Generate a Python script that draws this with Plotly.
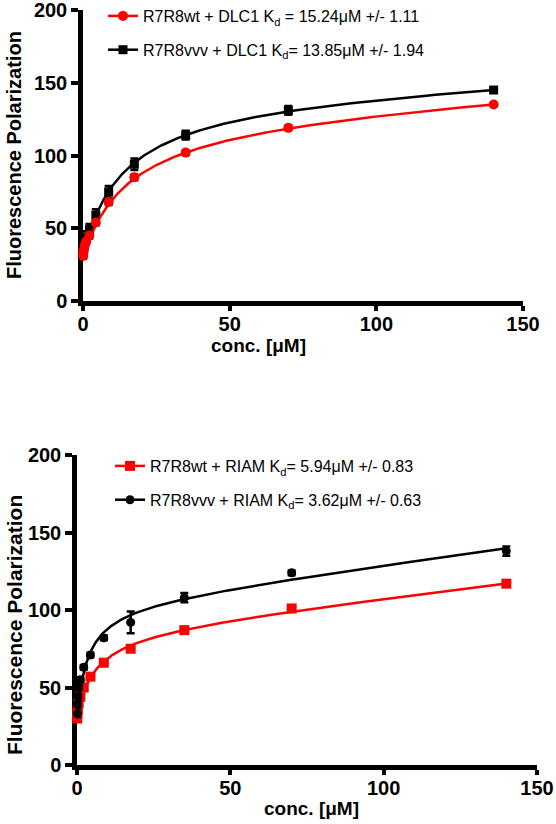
import numpy as np
import plotly.graph_objects as go

# ---------------- data ----------------
conc = [140, 70, 35, 17.5, 8.75, 4.375, 2.1875, 1.09375, 0.546875, 0.2734, 0.1367, 0.0684]

dlc1_wt = [135, 119, 102, 85, 68, 54, 45, 41, 38, 35, 33, 31]
dlc1_wt_err = [1, 1.5, 1.5, 2, 2, 2, 2, 2, 2, 2, 2, 2]
dlc1_vvv = [145, 131, 114, 94, 75, 59, 49, 44, 40, 37, 35, 33]
dlc1_vvv_err = [1.5, 3, 3, 4, 4, 4, 4, 4, 4, 3, 3, 3]

riam_wt = [117, 101, 87, 75, 66, 57, 50, 44, 40, 36, 33, 30]
riam_wt_err = [1.5, 1.5, 1.5, 1.5, 1.5, 1.5, 1.5, 1.5, 1.5, 1.5, 1.5, 1.5]
riam_vvv = [138, 124, 108, 92, 82, 71, 63, 55, 50, 44, 39, 33]
riam_vvv_err = [3, 1.5, 3, 7, 1.5, 1.5, 1.5, 1.5, 1.5, 2, 2, 2]

# fitted binding curves: [Kd, Bmax, nonspecific slope, baseline]
fit_dlc1_wt = [15.24, 97, 0.126, 30]
fit_dlc1_vvv = [13.85, 110, 0.092, 32]
fit_riam_wt = [5.94, 55, 0.231, 32]
fit_riam_vvv = [3.62, 72.5, 0.266, 32]

names_top = ["R7R8wt + DLC1 K<sub>d</sub> = 15.24\u03bcM +/- 1.11",
             "R7R8vvv + DLC1 K<sub>d</sub>= 13.85\u03bcM +/- 1.94"]
names_bot = ["R7R8wt + RIAM K<sub>d</sub>= 5.94\u03bcM +/- 0.83",
             "R7R8vvv + RIAM K<sub>d</sub>= 3.62\u03bcM +/- 0.63"]

x_ticks = [0, 50, 100, 150]
y_ticks = [0, 50, 100, 150, 200]
x_title = "conc. [\u03bcM]"
y_title = "Fluorescence Polarization"

RED = "#ff0000"
BLK = "#000000"
FONT = "Arial, Liberation Sans, sans-serif"

fit_x = np.geomspace(min(conc), max(conc), 300)


def fit_curve(p):
    kd, bmax, ns, b0 = p
    return b0 + bmax * fit_x / (kd + fit_x) + ns * fit_x


fig = go.Figure()


def add_series(xa, ya, y, err, fit, color, symbol, size):
    fig.add_trace(go.Scatter(x=fit_x, y=fit_curve(fit), mode="lines",
                             line=dict(color=color, width=2.5), xaxis=xa, yaxis=ya,
                             showlegend=False, hoverinfo="skip", cliponaxis=False))
    fig.add_trace(go.Scatter(x=conc, y=y, mode="markers",
                             marker=dict(color=color, symbol=symbol, size=size),
                             error_y=dict(type="data", array=err, color=BLK, thickness=2.5, width=4),
                             xaxis=xa, yaxis=ya, showlegend=False, cliponaxis=False))


def add_legend(name, color, symbol, size, legend, rank):
    fig.add_trace(go.Scatter(x=[None], y=[None], mode="lines+markers", name=name,
                             line=dict(color=color, width=2.5),
                             marker=dict(color=color, symbol=symbol, size=size),
                             legend=legend, legendgroup=name, legendrank=rank))


# top panel (black below red)
add_series("x", "y", dlc1_vvv, dlc1_vvv_err, fit_dlc1_vvv, BLK, "square", 9)
add_series("x", "y", dlc1_wt, dlc1_wt_err, fit_dlc1_wt, RED, "circle", 10)
# bottom panel (red below black)
add_series("x2", "y2", riam_wt, riam_wt_err, fit_riam_wt, RED, "square", 10)
add_series("x2", "y2", riam_vvv, riam_vvv_err, fit_riam_vvv, BLK, "circle", 9)

add_legend(names_top[0], RED, "circle", 10, "legend", 1)
add_legend(names_top[1], BLK, "square", 9, "legend", 2)
add_legend(names_bot[0], RED, "square", 10, "legend2", 1)
add_legend(names_bot[1], BLK, "circle", 9, "legend2", 2)

W, H = 556, 824


def px_x(v):
    return v / W


def px_y(v):
    return (H - v) / H


axis_common = dict(showline=True, linewidth=4.5, linecolor=BLK, ticks="outside",
                   tickwidth=4, tickcolor=BLK, showgrid=False, zeroline=False,
                   layer="below traces", automargin=False, ticklabeloverflow="allow",
                   tickfont=dict(family=FONT, size=20, color=BLK, weight="bold"))
x_axis_style = dict(ticklen=5, ticklabelstandoff=-4, **axis_common)
y_axis_style = dict(ticklen=7, **axis_common)


def title_ann(text, x, y, size, angle=0):
    return dict(text="<b>" + text + "</b>", x=px_x(x), y=px_y(y), xref="paper", yref="paper",
                xanchor="center", yanchor="middle", textangle=angle, showarrow=False,
                font=dict(family=FONT, size=size, color=BLK))


fig.update_layout(
    template="none",
    width=W, height=H, margin=dict(l=0, r=0, t=0, b=0, pad=0, autoexpand=False),
    paper_bgcolor="white", plot_bgcolor="white",
    xaxis=dict(domain=[px_x(83), px_x(523)], range=[0, 150], tickvals=x_ticks,
               anchor="y", **x_axis_style),
    yaxis=dict(domain=[px_y(301), px_y(10)], range=[0, 200], tickvals=y_ticks,
               anchor="x", **y_axis_style),
    xaxis2=dict(domain=[px_x(77), px_x(537)], range=[0, 150], tickvals=x_ticks,
                anchor="y2", **x_axis_style),
    yaxis2=dict(domain=[px_y(765), px_y(455)], range=[0, 200], tickvals=y_ticks,
                anchor="x2", **y_axis_style),
    legend=dict(x=px_x(103), y=px_y(-1), xanchor="left", yanchor="top",
                font=dict(family=FONT, size=16, color=BLK), tracegroupgap=10,
                bgcolor="rgba(0,0,0,0)"),
    legend2=dict(x=px_x(110), y=px_y(449), xanchor="left", yanchor="top",
                 font=dict(family=FONT, size=16, color=BLK), tracegroupgap=10,
                 bgcolor="rgba(0,0,0,0)"),
    annotations=[
        title_ann(y_title, 14, 155, 20, -90),
        title_ann(y_title, 14, 625, 21, -90),
        title_ann(x_title, 258, 345, 19),
        title_ann(x_title, 311, 808, 19),
    ],
)

fig.write_html("out.html", config={"displayModeBar": False},
               post_script="document.body.style.margin='0';document.body.style.overflow='hidden';")
